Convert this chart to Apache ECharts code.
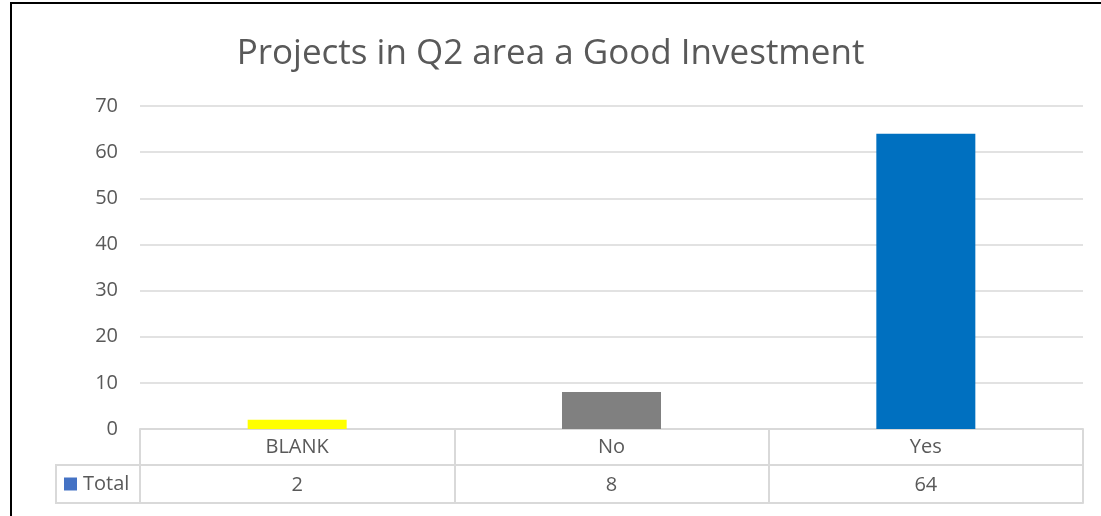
<!DOCTYPE html>
<html>
<head>
<meta charset="utf-8">
<script src="https://cdn.jsdelivr.net/npm/echarts@6/dist/echarts.min.js"></script>
<style>
  html, body { margin: 0; padding: 0; background: #fff; }
  #main { width: 1101px; height: 516px; }
  #frame { position: absolute; left: 10px; top: 2px; width: 1091px; height: 514px;
           border-left: 2px solid #000; border-top: 2px solid #000; box-sizing: border-box; pointer-events: none; }
</style>
</head>
<body>
<div id="main"></div>
<div id="frame"></div>
<script>
var categories = ['BLANK', 'No', 'Yes'];
var totals = [2, 8, 64];
var barColors = ['#FFFF00', '#808080', '#0070C0'];
var yTicks = { min: 0, max: 70, interval: 10 };

var gridLine = '#d9d9d9';
var textColor = '#595959';
var font = 'Open Sans';

var myChart = echarts.init(document.getElementById('main'));

// bar data with its own colour per category
var barData = totals.map(function (v, i) {
    return { value: v, itemStyle: { color: barColors[i] } };
});

var option = {
    animation: false,
    title: {
        text: 'Projects in Q2 area a Good Investment',
        left: 'center',
        top: 32,
        textStyle: { fontFamily: font, fontSize: 35, fontWeight: 'normal', color: textColor }
    },
    legend: {
        data: ['Total'],
        left: 59,
        top: 469,
        icon: 'rect',
        itemWidth: 13,
        itemHeight: 13,
        itemGap: 6,
        textStyle: { fontFamily: font, fontSize: 20, color: textColor, padding: [0, 0, 0, 1] }
    },
    grid: { left: 140, right: 18, top: 106, bottom: 87 },
    yAxis: {
        type: 'value',
        min: yTicks.min,
        max: yTicks.max,
        interval: yTicks.interval,
        axisLine: { show: false },
        axisTick: { show: false },
        axisLabel: { margin: 22, fontFamily: font, fontSize: 20, color: textColor },
        splitLine: { lineStyle: { color: gridLine, width: 1.5 } }
    },
    xAxis: [
        {
            // category row of the data table
            type: 'category',
            data: categories,
            position: 'bottom',
            axisLine: { lineStyle: { color: gridLine, width: 2 } },
            axisTick: { show: true, length: 74, lineStyle: { color: gridLine, width: 2 } },
            axisLabel: { margin: 8, fontFamily: font, fontSize: 20, color: textColor }
        },
        {
            // values row of the data table
            type: 'category',
            data: categories,
            position: 'bottom',
            offset: 36,
            axisLine: { lineStyle: { color: gridLine, width: 2 } },
            axisTick: { show: false },
            axisLabel: {
                margin: 10, fontFamily: font, fontSize: 20, color: textColor,
                formatter: function (v, i) { return String(totals[i]); }
            }
        },
        {
            // bottom edge of the table
            type: 'category',
            data: categories,
            position: 'bottom',
            offset: 74,
            axisLine: { lineStyle: { color: gridLine, width: 2 } },
            axisTick: { show: false },
            axisLabel: { show: false }
        }
    ],
    graphic: [
        {
            // cell holding the series key
            type: 'rect',
            shape: { x: 56, y: 465, width: 84, height: 38 },
            style: { fill: 'none', stroke: gridLine, lineWidth: 2 },
            silent: true
        }
    ],
    series: [
        {
            name: 'Total',
            type: 'bar',
            xAxisIndex: 0,
            barWidth: 99,
            itemStyle: { color: '#4472C4' },
            data: barData
        }
    ]
};

myChart.setOption(option);
</script>
</body>
</html>
